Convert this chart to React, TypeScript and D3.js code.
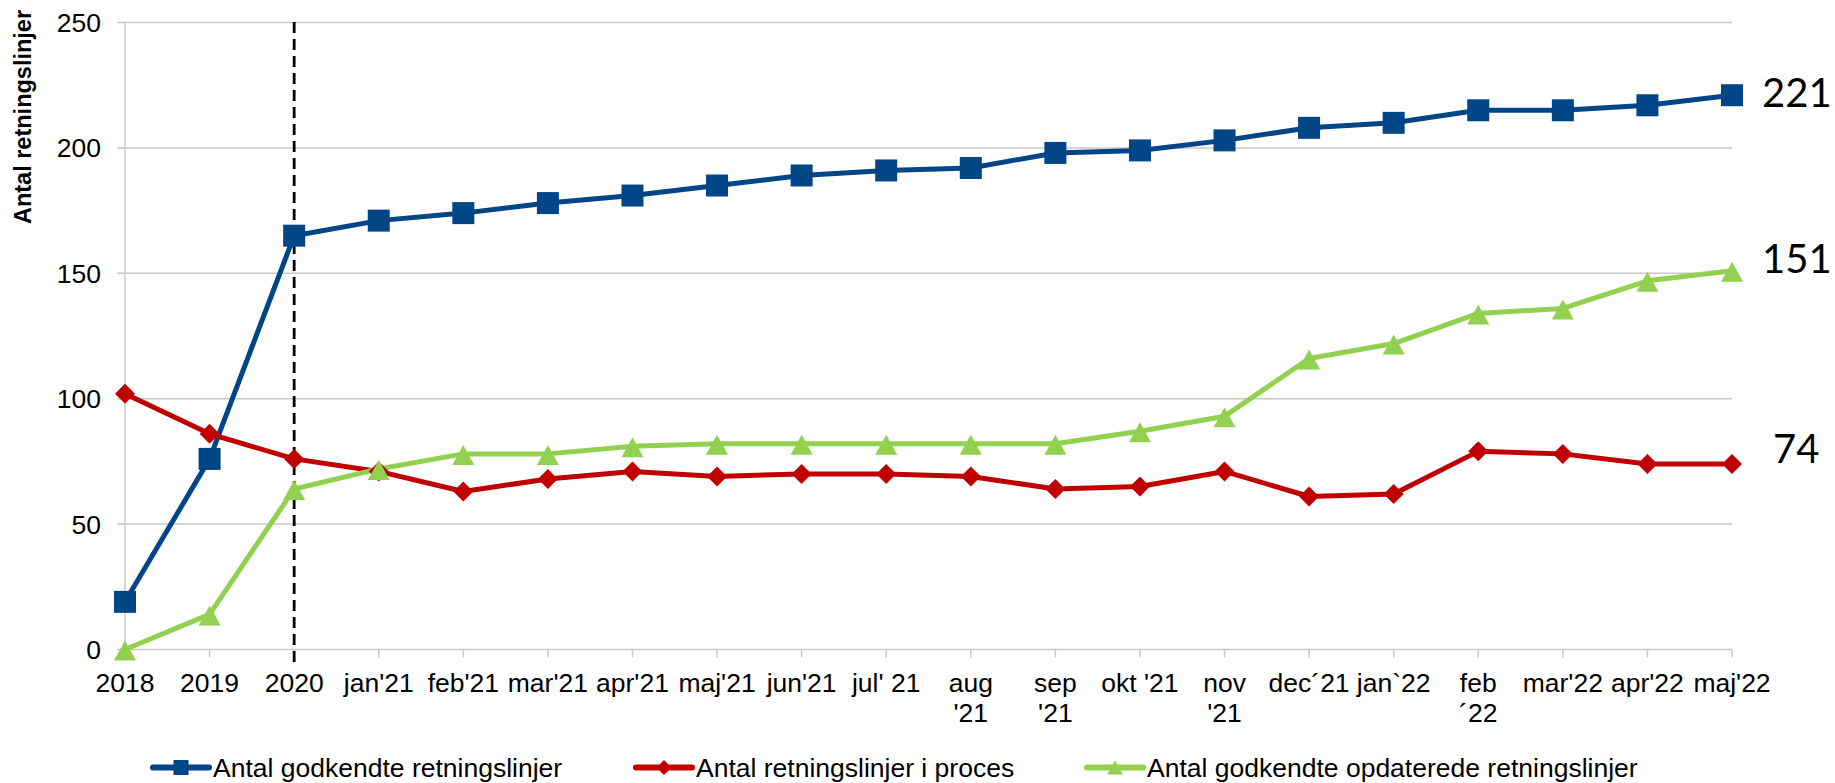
import React from "react";
import * as d3 from "d3";

const categories: string[] = [
  "2018", "2019", "2020", "jan'21", "feb'21", "mar'21", "apr'21", "maj'21",
  "jun'21", "jul' 21", "aug\n'21", "sep\n'21", "okt '21", "nov\n'21",
  "dec´21", "jan`22", "feb\n´22", "mar'22", "apr'22", "maj'22",
];

const godkendte: number[] = [19, 76, 165, 171, 174, 178, 181, 185, 189, 191, 192, 198, 199, 203, 208, 210, 215, 215, 217, 221];
const iProces: number[] = [102, 86, 76, 71, 63, 68, 71, 69, 70, 70, 69, 64, 65, 71, 61, 62, 79, 78, 74, 74];
const opdaterede: number[] = [0, 14, 64, 72, 78, 78, 81, 82, 82, 82, 82, 82, 87, 93, 116, 122, 134, 136, 147, 151];

const yTicks: number[] = [0, 50, 100, 150, 200, 250];

const seriesNames: string[] = [
  "Antal godkendte retningslinjer",
  "Antal retningslinjer i proces",
  "Antal godkendte opdaterede retningslinjer",
];

const W = 1835;
const H = 783;
const FONT = "'Liberation Sans', Arial, sans-serif";

export default function App() {
  const x = d3.scalePoint<string>().domain(categories).range([125, 1732]);
  const y = d3.scaleLinear().domain([0, 250]).range([649.5, 22.5]);
  const px = (i: number) => x(categories[i]) as number;

  const line = d3
    .line<number>()
    .x((_, i) => px(i))
    .y((d) => y(d));

  const blue = "#004586";
  const red = "#c00000";
  const green = "#92d050";
  const grid = "#c8c8c8";

  const square = (cx: number, cy: number, s: number, c: string, k: string) => (
    <rect key={k} x={cx - s / 2} y={cy - s / 2} width={s} height={s} fill={c} />
  );
  const diamond = (cx: number, cy: number, s: number, c: string, k: string) => (
    <path key={k} d={`M${cx},${cy - s / 2}L${cx + s / 2},${cy}L${cx},${cy + s / 2}L${cx - s / 2},${cy}Z`} fill={c} />
  );
  const triangle = (cx: number, cy: number, w: number, h: number, c: string, k: string) => (
    <path key={k} d={`M${cx},${cy - h / 2}L${cx + w / 2},${cy + h / 2}L${cx - w / 2},${cy + h / 2}Z`} fill={c} />
  );

  const last = categories.length - 1;
  const lastX = px(last);

  const legendItems = [
    { name: seriesNames[0], color: blue, x0: 153, kind: "square" },
    { name: seriesNames[1], color: red, x0: 636, kind: "diamond" },
    { name: seriesNames[2], color: green, x0: 1087, kind: "triangle" },
  ];
  const legY = 767.5;

  return (
    <svg width={W} height={H} style={{ position: "absolute", left: 0, top: 0, background: "#fff" }} fontFamily={FONT}>
      {yTicks.map((t) => (
        <line key={"g" + t} x1={117} x2={1732} y1={y(t)} y2={y(t)} stroke={grid} strokeWidth={1.5} />
      ))}
      <line x1={125} x2={125} y1={y(250)} y2={y(0)} stroke={grid} strokeWidth={1.5} />
      {categories.map((c, i) => (
        <line key={"xt" + i} x1={px(i)} x2={px(i)} y1={y(0)} y2={y(0) + 8} stroke={grid} strokeWidth={1.5} />
      ))}
      {yTicks.map((t) => (
        <text key={"yl" + t} x={101} y={y(t)} dy="0.36em" textAnchor="end" fontSize={26.5} fill="#000">
          {t}
        </text>
      ))}
      <text
        transform={`translate(31,${117}) rotate(-90)`}
        textAnchor="middle"
        fontSize={23.5}
        fontWeight="bold"
        fill="#000"
      >
        Antal retningslinjer
      </text>
      {categories.map((c, i) => {
        const parts = c.split("\n");
        return (
          <text key={"xl" + i} x={px(i)} y={692} textAnchor="middle" fontSize={26.5} fill="#000">
            {parts.map((p, j) => (
              <tspan key={j} x={px(i)} dy={j === 0 ? 0 : 30}>
                {p}
              </tspan>
            ))}
          </text>
        );
      })}
      <line x1={px(2)} x2={px(2)} y1={22} y2={668} stroke="#000" strokeWidth={2.8} strokeDasharray="11,6" />

      <path d={line(godkendte) || ""} fill="none" stroke={blue} strokeWidth={5} strokeLinejoin="round" />
      <path d={line(iProces) || ""} fill="none" stroke={red} strokeWidth={5} strokeLinejoin="round" />
      <path d={line(opdaterede) || ""} fill="none" stroke={green} strokeWidth={5} strokeLinejoin="round" />

      {godkendte.map((v, i) => square(px(i), y(v), 22, blue, "sq" + i))}
      {iProces.map((v, i) => diamond(px(i), y(v), 20, red, "di" + i))}
      {opdaterede.map((v, i) => triangle(px(i), y(v) + 1, 22, 20, green, "tr" + i))}

      <text x={lastX + 30} y={y(godkendte[last]) + 12} fontFamily="Lato, 'Open Sans', sans-serif" fontSize={40} fill="#000">
        {godkendte[last]}
      </text>
      <text x={lastX + 30} y={y(opdaterede[last]) + 2} fontFamily="Lato, 'Open Sans', sans-serif" fontSize={40} fill="#000">
        {opdaterede[last]}
      </text>
      <text x={lastX + 41} y={y(iProces[last]) - 1} fontFamily="Lato, 'Open Sans', sans-serif" fontSize={40} fill="#000">
        {iProces[last]}
      </text>

      {legendItems.map((it, k) => {
        const cx = it.x0 + 28;
        return (
          <g key={"lg" + k}>
            <line x1={it.x0} x2={it.x0 + 56} y1={legY} y2={legY} stroke={it.color} strokeWidth={6} strokeLinecap="round" />
            {it.kind === "square" && square(cx, legY, 15, it.color, "ls")}
            {it.kind === "diamond" && diamond(cx, legY, 15, it.color, "ld")}
            {it.kind === "triangle" && triangle(cx, legY, 16, 14, it.color, "lt")}
            <text x={it.x0 + 60} y={776.5} fontSize={26.5} fill="#000">
              {it.name}
            </text>
          </g>
        );
      })}
    </svg>
  );
}
